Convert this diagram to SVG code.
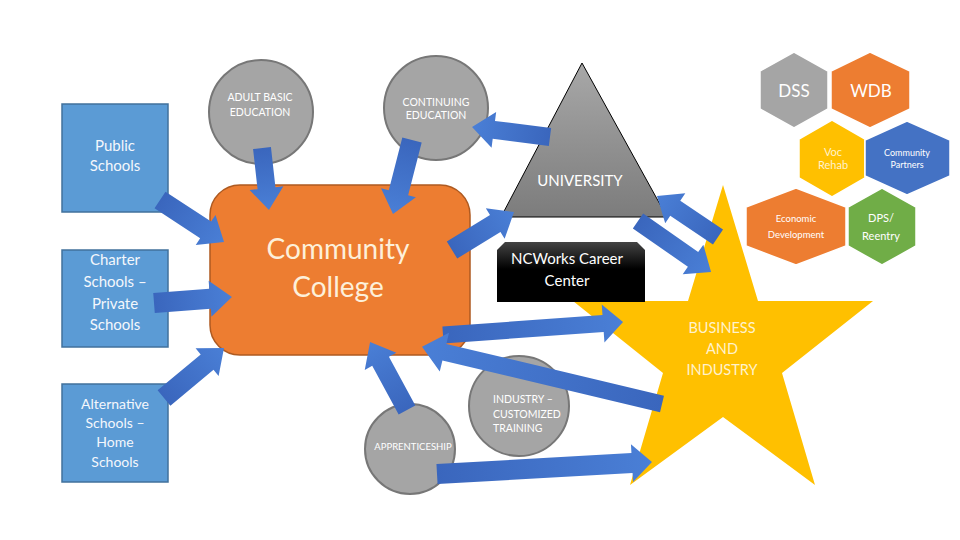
<svg xmlns="http://www.w3.org/2000/svg" width="960" height="540" viewBox="0 0 960 540">
<defs>
<linearGradient id="gArrow" x1="0" y1="0" x2="1" y2="0">
<stop offset="0" stop-color="#3a66bd"/>
<stop offset="1" stop-color="#4a7fd6"/>
</linearGradient>
<linearGradient id="gTri" x1="0" y1="0" x2="0" y2="1">
<stop offset="0" stop-color="#a8a8a8"/>
<stop offset="1" stop-color="#7c7c7c"/>
</linearGradient>
<linearGradient id="gNC" x1="0" y1="0" x2="0" y2="1">
<stop offset="0" stop-color="#444"/>
<stop offset="0.45" stop-color="#000"/>
<stop offset="1" stop-color="#000"/>
</linearGradient>
</defs>
<style>
text{font-family:Lato,"Open Sans","Liberation Sans",sans-serif;text-anchor:middle}
.blue{fill:#5b9bd5;stroke:#41719c;stroke-width:1.5}
.btxt{fill:#f4f7fc;font-size:15px}
.circ{fill:#a5a5a5;stroke:#777;stroke-width:2}
.ctxt{fill:#fff;font-size:10.5px}
.arrow{fill:url(#gArrow)}
.hex{stroke:#fff;stroke-width:1.5}
.htxt{fill:#fff}
</style>

<g id="business-industry">
<polygon points="723,185 758,301 873,301 782,373 815,485 723,417 630,485 663,373 573,301 688,301" fill="#ffc000"/>
<text x="722" y="333" font-size="14.5" fill="#fff2cc">BUSINESS</text>
<text x="722" y="354" font-size="14.5" fill="#fff2cc">AND</text>
<text x="722" y="375" font-size="14.5" fill="#fff2cc">INDUSTRY</text>
</g>

<g id="adult-basic-education">
<circle cx="261" cy="112" r="52" class="circ"/>
<text x="260" y="101" class="ctxt">ADULT BASIC</text>
<text x="260" y="116" class="ctxt">EDUCATION</text>
</g>

<g id="continuing-education">
<circle cx="436" cy="108" r="52" class="circ"/>
<text x="436" y="106" class="ctxt">CONTINUING</text>
<text x="436" y="119" class="ctxt">EDUCATION</text>
</g>

<g id="industry-customized-training">
<circle cx="519" cy="406" r="50" class="circ"/>
<text x="493" y="403" class="ctxt" style="text-anchor:start">INDUSTRY –</text>
<text x="493" y="418" class="ctxt" style="text-anchor:start">CUSTOMIZED</text>
<text x="493" y="432" class="ctxt" style="text-anchor:start">TRAINING</text>
</g>

<g id="apprenticeship">
<circle cx="410" cy="449" r="45" class="circ"/>
<text x="413" y="450" class="ctxt" font-size="9.5" style="font-size:9.5px">APPRENTICESHIP</text>
</g>

<g id="community-college">
<rect x="210" y="185" width="260" height="170" rx="30" fill="#ed7d31" stroke="#ae5a21" stroke-width="1.5"/>
<text x="338" y="259" font-size="28" fill="#fdf0da">Community</text>
<text x="338" y="297" font-size="28" fill="#fdf0da">College</text>
</g>

<g id="public-schools">
<rect x="62" y="104" width="106" height="108" class="blue"/>
<text x="115" y="151" class="btxt">Public</text>
<text x="115" y="171" class="btxt">Schools</text>
</g>

<g id="charter-schools">
<rect x="62" y="250" width="106" height="97" class="blue"/>
<text x="115" y="265" class="btxt">Charter</text>
<text x="115" y="287" class="btxt">Schools –</text>
<text x="115" y="309" class="btxt">Private</text>
<text x="115" y="330" class="btxt">Schools</text>
</g>

<g id="alternative-schools">
<rect x="62" y="384" width="106" height="98" class="blue"/>
<text x="115" y="409" class="btxt" style="font-size:14px">Alternative</text>
<text x="115" y="428" class="btxt" style="font-size:14px">Schools –</text>
<text x="115" y="447" class="btxt" style="font-size:14px">Home</text>
<text x="115" y="467" class="btxt" style="font-size:14px">Schools</text>
</g>

<g id="university">
<polygon points="582,63 667,217 501,217" fill="url(#gTri)" stroke="#000" stroke-width="1"/>
<text x="580" y="186" font-size="15" fill="#fff">UNIVERSITY</text>
</g>

<g id="ncworks-career-center">
<path d="M505,242 L637,242 L645,250 L645,302 L497,302 L497,250 Z" fill="url(#gNC)"/>
<text x="567" y="264" font-size="15" fill="#fff">NCWorks Career</text>
<text x="567" y="286" font-size="15" fill="#fff">Center</text>
</g>

<g id="dss">
<polygon points="794,52 828,71 828,109 794,128 760,109 760,71" fill="#a5a5a5" class="hex"/>
<text x="794" y="97" font-size="17" class="htxt">DSS</text>
</g>
<g id="wdb">
<polygon points="870,52 910,71 910,109 870,128 831,109 831,71" fill="#ed7d31" class="hex"/>
<text x="871" y="97" font-size="17" class="htxt">WDB</text>
</g>
<g id="voc-rehab">
<polygon points="832,120 865,139 865,178 832,197 799,178 799,139" fill="#ffc000" class="hex"/>
<text x="833" y="156" font-size="11" fill="#fff2cc">Voc</text>
<text x="833" y="169" font-size="11" fill="#fff2cc">Rehab</text>
</g>
<g id="community-partners">
<polygon points="907,121 950,140 950,176 907,195 865,176 865,140" fill="#4472c4" class="hex"/>
<text x="907" y="156" font-size="9" class="htxt">Community</text>
<text x="907" y="168" font-size="9" class="htxt">Partners</text>
</g>
<g id="economic-development">
<polygon points="796,188 846,207 846,246 796,265 746,246 746,207" fill="#ed7d31" class="hex"/>
<text x="796" y="222" font-size="9.5" class="htxt">Economic</text>
<text x="796" y="238" font-size="9.5" class="htxt">Development</text>
</g>
<g id="dps-reentry">
<polygon points="882,188 916,207 916,246 882,265 848,246 848,207" fill="#70ad47" class="hex"/>
<text x="881" y="222" font-size="11" class="htxt">DPS/</text>
<text x="881" y="240" font-size="11" class="htxt">Reentry</text>
</g>

<g id="connectors">
<path class="arrow" transform="translate(160,200) rotate(33.3)" d="M0,-10 L54.6,-10 L54.6,-18 L76.6,0 L54.6,18 L54.6,10 L0,10 Z"/>
<path class="arrow" transform="translate(154,303) rotate(-4.4)" d="M0,-10 L56.2,-10 L56.2,-18 L78.2,0 L56.2,18 L56.2,10 L0,10 Z"/>
<path class="arrow" transform="translate(164,398) rotate(-39.8)" d="M0,-10 L56.1,-10 L56.1,-18 L78.1,0 L56.1,18 L56.1,10 L0,10 Z"/>
<path class="arrow" transform="translate(262,148) rotate(83.6)" d="M0,-9 L40.4,-9 L40.4,-17 L62.4,0 L40.4,17 L40.4,9 L0,9 Z"/>
<path class="arrow" transform="translate(412,140) rotate(104.4)" d="M0,-10 L54.4,-10 L54.4,-18 L76.4,0 L54.4,18 L54.4,10 L0,10 Z"/>
<path class="arrow" transform="translate(550,137) rotate(187.3)" d="M0,-9 L56.6,-9 L56.6,-18 L78.6,0 L56.6,18 L56.6,9 L0,9 Z"/>
<path class="arrow" transform="translate(452,250) rotate(-31.5)" d="M0,-10 L50.7,-10 L50.7,-18 L72.7,0 L50.7,18 L50.7,10 L0,10 Z"/>
<path class="arrow" transform="translate(718,237) rotate(-146.1)" d="M0,-9 L51.5,-9 L51.5,-18 L73.5,0 L51.5,18 L51.5,9 L0,9 Z"/>
<path class="arrow" transform="translate(638,221) rotate(34.9)" d="M0,-9 L67.1,-9 L67.1,-18 L89.1,0 L67.1,18 L67.1,9 L0,9 Z"/>
<path class="arrow" transform="translate(443,335) rotate(-4.1)" d="M0,-8.5 L160.5,-8.5 L160.5,-19 L180.5,0 L160.5,19 L160.5,8.5 L0,8.5 Z"/>
<path class="arrow" transform="translate(662,404) rotate(-166.6)" d="M0,-8.5 L223.7,-8.5 L223.7,-20 L246.7,0 L223.7,20 L223.7,8.5 L0,8.5 Z"/>
<path class="arrow" transform="translate(407,410) rotate(-118.5)" d="M0,-9.5 L55.4,-9.5 L55.4,-18 L77.4,0 L55.4,18 L55.4,9.5 L0,9.5 Z"/>
<path class="arrow" transform="translate(437,474) rotate(-3.2)" d="M0,-10 L195.3,-10 L195.3,-19 L215.3,0 L195.3,19 L195.3,10 L0,10 Z"/>
</g>
</svg>
